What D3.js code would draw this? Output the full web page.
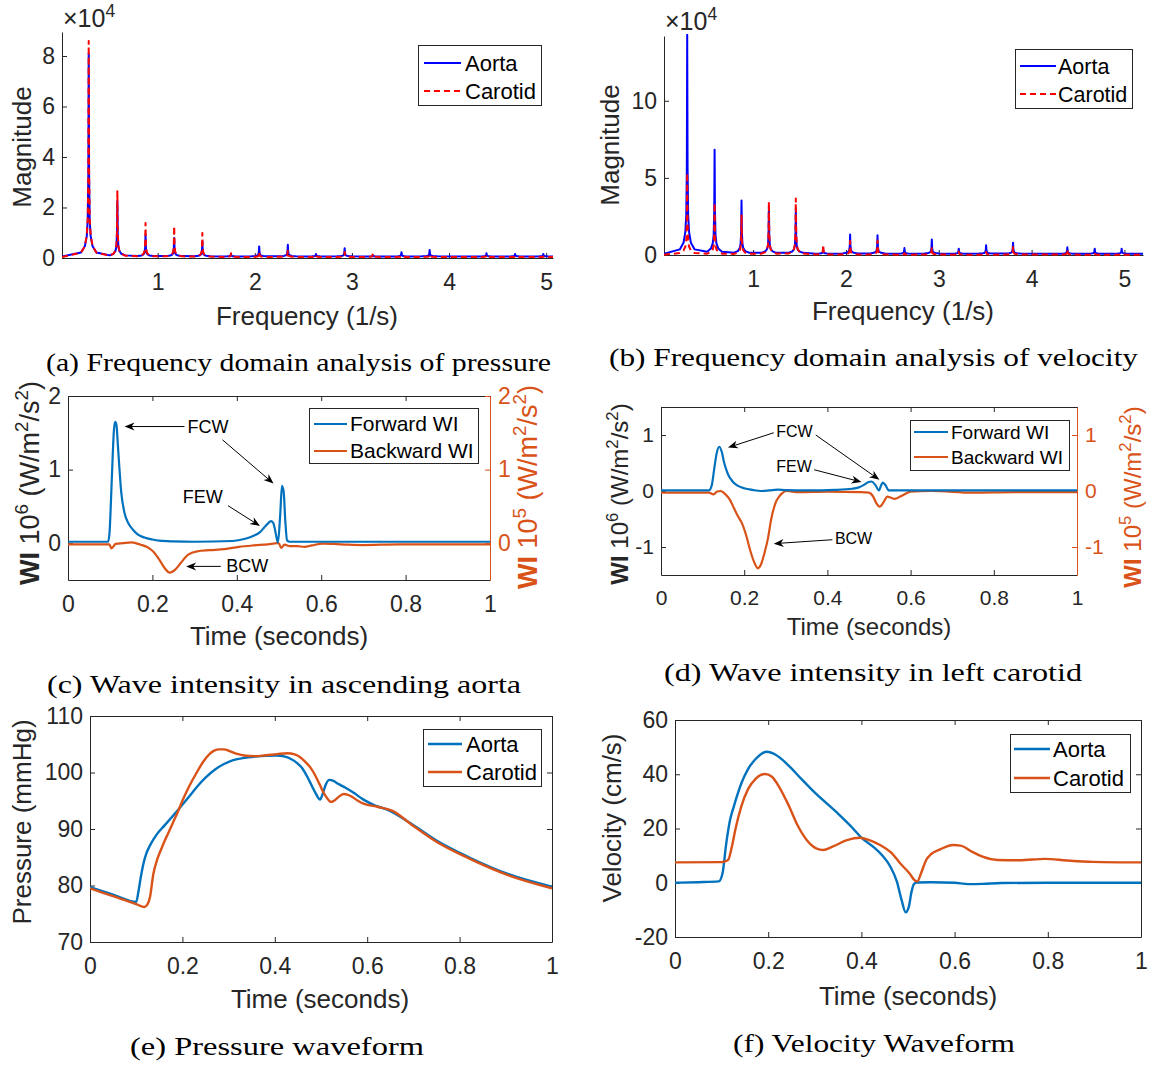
<!DOCTYPE html>
<html>
<head>
<meta charset="utf-8">
<script src="https://cdn.jsdelivr.net/npm/d3@7/dist/d3.min.js"></script>
<style>
  body { margin: 0; background: #fff; }
  svg text { white-space: pre; }
</style>
</head>
<body>
<svg id="fig" width="1155" height="1065"></svg>
<script>
// ---------- values ----------

// (a),(b) spectra: one peak per harmonic, magnitude in units of 1e4
const harmonicFreq    = [0.29, 0.585, 0.875, 1.17, 1.46, 1.755, 2.045, 2.34, 2.63, 2.925, 3.215, 3.51, 3.80, 4.095, 4.385, 4.68, 4.97];
const pressAortaMag   = [8.05, 2.2, 0.86, 0.73, 0.6, 0.1, 0.4, 0.46, 0.1, 0.33, 0.05, 0.17, 0.26, 0, 0.13, 0.1, 0.1];
const pressCarotidMag = [8.55, 2.6, 1.35, 1.22, 0.95, 0.15, 0.2, 0.25, 0.08, 0.2, 0.13, 0.05, 0.1, 0, 0.08, 0.02, 0.02];
const velAortaMag     = [14.2, 6.75, 3.45, 3.03, 2.9, 0.3, 1.25, 1.2, 0.37, 0.92, 0.33, 0.55, 0.72, 0, 0.42, 0.33, 0.33];
const velCarotidMag   = [5.3, 3.35, 2.6, 3.43, 3.65, 0.66, 0.88, 0.92, 0.1, 0.48, 0.2, 0.18, 0.5, 0, 0.33, 0.05, 0.05];
// profile of one peak: offset from the harmonic (1/s) and share of its height
const peakOffset = [-0.08, -0.04, -0.02, -0.01, -0.004, 0, 0.004, 0.01, 0.02, 0.04, 0.08];
const peakShare  = [0.02, 0.05, 0.1, 0.18, 0.4, 1, 0.4, 0.18, 0.1, 0.05, 0.02];

// (c) ascending aorta wave intensity (forward 1e6, backward 1e5)
const aoFwdT = [0, 0.095, 0.0985, 0.102, 0.106, 0.109, 0.112, 0.115, 0.118, 0.121, 0.126, 0.134, 0.143, 0.153, 0.165, 0.181, 0.2, 0.216, 0.25, 0.3, 0.39, 0.42, 0.44, 0.455, 0.466, 0.474, 0.481, 0.486, 0.49, 0.494, 0.4975, 0.503, 0.507, 0.511, 0.515, 0.519, 0.525, 0.6, 1];
const aoFwd  = [0.02, 0.02, 0.15, 0.6, 1.2, 1.55, 1.65, 1.6, 1.35, 1.09, 0.7, 0.41, 0.27, 0.19, 0.12, 0.077, 0.05, 0.035, 0.025, 0.02, 0.03, 0.06, 0.1, 0.15, 0.22, 0.27, 0.3, 0.28, 0.2, 0.08, 0.01, 0.4, 0.78, 0.7, 0.3, 0.04, 0.02, 0.02, 0.02];
const aoBwdT = [0, 0.098, 0.103, 0.108, 0.113, 0.13, 0.151, 0.172, 0.19, 0.203, 0.216, 0.228, 0.241, 0.254, 0.267, 0.284, 0.306, 0.336, 0.371, 0.405, 0.44, 0.474, 0.496, 0.5, 0.505, 0.513, 0.526, 0.543, 0.56, 0.578, 0.603, 0.63, 0.664, 0.698, 0.784, 1];
const aoBwd  = [-0.015, -0.015, -0.07, -0.04, -0.01, 0, 0.01, -0.02, -0.06, -0.12, -0.22, -0.33, -0.4, -0.36, -0.27, -0.16, -0.11, -0.095, -0.08, -0.05, -0.03, -0.015, 0, -0.005, -0.065, -0.02, -0.04, -0.04, -0.05, -0.03, -0.005, -0.01, -0.02, -0.025, -0.015, -0.015];

// (d) left carotid wave intensity
const caFwdT = [0, 0.115, 0.122, 0.128, 0.134, 0.14, 0.146, 0.152, 0.161, 0.172, 0.183, 0.2, 0.22, 0.24, 0.26, 0.28, 0.3, 0.35, 0.42, 0.46, 0.474, 0.488, 0.499, 0.506, 0.515, 0.524, 0.529, 0.533, 0.539, 0.548, 0.6, 1];
const caFwd  = [0.01, 0.01, 0.1, 0.4, 0.68, 0.79, 0.7, 0.5, 0.3, 0.17, 0.1, 0.05, 0.02, 0, 0.01, 0.025, 0.015, 0.01, 0.02, 0.04, 0.06, 0.11, 0.16, 0.17, 0.11, 0.01, 0.1, 0.15, 0.11, 0.01, 0.01, 0.01];
const caBwdT = [0, 0.115, 0.126, 0.135, 0.143, 0.155, 0.165, 0.175, 0.185, 0.196, 0.205, 0.214, 0.224, 0.233, 0.241, 0.249, 0.257, 0.265, 0.275, 0.284, 0.293, 0.302, 0.33, 0.4, 0.48, 0.5, 0.51, 0.518, 0.526, 0.535, 0.544, 0.553, 0.562, 0.575, 0.59, 0.6, 0.65, 0.75, 0.85, 1];
const caBwd  = [-0.03, -0.03, -0.06, -0.01, 0, -0.06, -0.15, -0.3, -0.45, -0.6, -0.8, -1.05, -1.27, -1.38, -1.3, -1.1, -0.85, -0.5, -0.22, -0.1, -0.03, 0, -0.02, -0.01, -0.02, -0.03, -0.1, -0.22, -0.28, -0.2, -0.1, -0.12, -0.14, -0.1, -0.04, -0.01, 0, -0.03, -0.02, -0.02];

// wave labels and arrows, in data units: [x, y] and [x0, y0, x1, y1]
const waveLabels = ["FCW", "FEW", "BCW"];
const aoLabelPos = [[0.283, 1.585], [0.272, 0.63], [0.375, -0.306]];
const aoArrows   = [[0.276, 1.585, 0.134, 1.585], [0.366, 1.405, 0.487, 0.81], [0.379, 0.51, 0.455, 0.234], [0.362, -0.315, 0.28, -0.315]];
const caLabelPos = [[0.277, 1.06], [0.277, 0.44], [0.418, -0.85]];
const caArrows   = [[0.271, 1.04, 0.161, 0.776], [0.372, 1.0, 0.525, 0.2], [0.368, 0.38, 0.482, 0.16], [0.412, -0.87, 0.271, -0.94]];

// (e) pressure (mmHg)
const aoPressT = [0, 0.05, 0.1, 0.105, 0.11, 0.116, 0.122, 0.13, 0.137, 0.145, 0.161, 0.176, 0.19, 0.204, 0.22, 0.235, 0.25, 0.27, 0.29, 0.31, 0.335, 0.357, 0.38, 0.404, 0.42, 0.435, 0.448, 0.459, 0.47, 0.478, 0.488, 0.498, 0.504, 0.51, 0.518, 0.527, 0.537, 0.553, 0.569, 0.592, 0.616, 0.647, 0.694, 0.749, 0.82, 0.906, 1];
const aoPress  = [79.7, 78.4, 77.1, 79, 81.5, 84, 85.7, 87.1, 88.1, 89.1, 90.6, 92.0, 93.3, 94.7, 96.3, 97.8, 99.1, 100.5, 101.5, 102.2, 102.6, 102.8, 102.95, 103, 102.85, 102.4, 101.7, 100.8, 99.3, 98, 96.4, 95.2, 96.3, 97.8, 98.7, 98.5, 98, 97.3, 96.5, 95.2, 94.2, 93.3, 91, 88, 85, 82, 79.8];
const caPressT = [0, 0.05, 0.1, 0.112, 0.118, 0.124, 0.13, 0.137, 0.145, 0.153, 0.161, 0.169, 0.18, 0.19, 0.2, 0.215, 0.231, 0.245, 0.259, 0.27, 0.278, 0.29, 0.302, 0.318, 0.333, 0.357, 0.38, 0.405, 0.427, 0.443, 0.455, 0.467, 0.476, 0.484, 0.493, 0.502, 0.512, 0.522, 0.53, 0.537, 0.549, 0.557, 0.565, 0.578, 0.592, 0.624, 0.655, 0.694, 0.749, 0.82, 0.906, 1];
const caPress  = [79.5, 78.1, 76.7, 76.3, 76.2, 76.6, 78, 82, 84.5, 86.2, 87.8, 89.2, 91.2, 93, 95, 97.6, 100, 101.9, 103.3, 103.9, 104.1, 104.1, 103.8, 103.3, 103, 102.9, 103.05, 103.25, 103.4, 103.2, 102.7, 101.8, 101, 100, 98.6, 97, 95.6, 94.8, 95.1, 95.6, 96.2, 96.1, 95.8, 95.1, 94.5, 93.9, 93.2, 90.9, 87.8, 84.8, 81.8, 79.5];

// (f) velocity (cm/s)
const aoVelT = [0, 0.05, 0.094, 0.102, 0.11, 0.118, 0.126, 0.134, 0.142, 0.157, 0.173, 0.185, 0.197, 0.216, 0.244, 0.271, 0.299, 0.346, 0.381, 0.4, 0.425, 0.444, 0.462, 0.476, 0.486, 0.495, 0.502, 0.507, 0.513, 0.519, 0.55, 0.6, 0.629, 0.66, 0.7, 0.8, 1];
const aoVel  = [0, 0.2, 0.5, 3.5, 14.5, 23, 28, 32.5, 36.5, 42, 45.6, 47.5, 48.3, 47.2, 43.2, 38.3, 33.4, 26.1, 20.2, 16.6, 13.3, 10.2, 6, 0.5, -6.2, -10.9, -8.7, -3.8, -0.4, 0.1, 0.2, 0, -0.5, -0.4, -0.1, 0, 0];
const caVelT = [0, 0.1, 0.106, 0.114, 0.122, 0.13, 0.142, 0.157, 0.173, 0.193, 0.208, 0.224, 0.244, 0.263, 0.283, 0.303, 0.318, 0.338, 0.369, 0.397, 0.417, 0.44, 0.464, 0.483, 0.503, 0.515, 0.52, 0.528, 0.539, 0.55, 0.57, 0.597, 0.613, 0.637, 0.66, 0.692, 0.739, 0.794, 0.841, 0.896, 1];
const caVel  = [7.5, 7.6, 7.8, 8.4, 13.3, 20, 28, 34.6, 38.3, 40.1, 39.1, 35.2, 28.5, 21.2, 15.7, 12.7, 12.1, 13.3, 15.7, 16.6, 15.7, 13.9, 11.1, 7.2, 3.5, 0.8, 0.5, 3.5, 8.4, 10.6, 12.4, 13.9, 13.7, 11.5, 9.6, 8.4, 8.3, 8.8, 8.2, 7.7, 7.5];

// tick labels
const freqTicks = [1, 2, 3, 4, 5];
const pressMagTicks = [0, 2, 4, 6, 8];
const velMagTicks = [0, 5, 10];
const timeTicks = [0, 0.2, 0.4, 0.6, 0.8, 1];
const wiAoTicks = [0, 1, 2];
const wiCaTicks = [-1, 0, 1];
const pressureTicks = [70, 80, 90, 100, 110];
const velocityTicks = [-20, 0, 20, 40, 60];

// ---------- drawing ----------
const svg = d3.select("#fig");
svg.append("rect").attr("width", 1155).attr("height", 1065).attr("fill", "#fff");
const AX = "#262626";
const BLUE = "#0072BD", ORANGE = "#D95319";
const FONT = '"Liberation Sans", Arial, Helvetica, sans-serif';
const SERIF = '"Liberation Serif", "Times New Roman", serif';
let clipCount = 0;

function frame(b, xDom, yDom, o) {
  const x = d3.scaleLinear().domain(xDom).range([b.l, b.r]);
  const y = d3.scaleLinear().domain(yDom).range([b.b, b.t]);
  const fmt = d => String(d);
  const g = svg.append("g");
  g.append("g").attr("class", "ax").attr("transform", "translate(0," + b.b + ")")
    .call(d3.axisBottom(x).tickValues(o.xTicks).tickFormat(fmt).tickSize(-5).tickSizeOuter(0).tickPadding(o.padX));
  g.append("g").attr("class", "ax").attr("transform", "translate(" + b.l + ",0)")
    .call(d3.axisLeft(y).tickValues(o.yTicks).tickFormat(fmt).tickSize(-5).tickSizeOuter(0).tickPadding(7));
  if (o.box) {
    g.append("g").attr("class", "ax").attr("transform", "translate(0," + b.t + ")")
      .call(d3.axisTop(x).tickValues(o.xTicks).tickFormat("").tickSize(-5).tickSizeOuter(0));
    if (!o.right) {
      g.append("g").attr("class", "ax").attr("transform", "translate(" + b.r + ",0)")
        .call(d3.axisRight(y).tickValues(o.yTicks).tickFormat("").tickSize(-5).tickSizeOuter(0));
    }
  }
  g.selectAll(".ax .domain").attr("stroke", AX);
  g.selectAll(".ax line").attr("stroke", AX);
  g.selectAll(".ax text").attr("fill", AX).attr("font-size", o.fs).attr("font-family", FONT);
  let yR = null;
  if (o.right) {
    yR = d3.scaleLinear().domain(o.right.dom).range([b.b, b.t]);
    const gr = g.append("g").attr("transform", "translate(" + b.r + ",0)")
      .call(d3.axisRight(yR).tickValues(o.right.ticks).tickFormat(fmt).tickSize(-5).tickSizeOuter(0).tickPadding(8));
    gr.selectAll(".domain").attr("stroke", ORANGE);
    gr.selectAll("line").attr("stroke", ORANGE);
    gr.selectAll("text").attr("fill", ORANGE).attr("font-size", o.fs).attr("font-family", FONT);
  }
  const id = "clip" + (clipCount++);
  svg.append("clipPath").attr("id", id).append("rect")
    .attr("x", b.l).attr("y", b.t - 2).attr("width", b.r - b.l).attr("height", b.b - b.t + 4);
  return { x: x, y: y, yR: yR, clip: "url(#" + id + ")" };
}

function rich(sel, parts, fs) {
  let cur = 0;
  parts.forEach(function (p) {
    const target = p[1] === "sup" ? -0.42 * fs : 0;
    const ts = sel.append("tspan").attr("dy", target - cur).text(p[0]);
    cur = target;
    if (p[1] === "sup") ts.attr("font-size", 0.7 * fs);
    if (p[1] === "bold") ts.attr("font-weight", "bold");
  });
}

function axisLabel(parts, cx, cy, fs, rotated, color) {
  const t = svg.append("text").attr("text-anchor", "middle").attr("font-size", fs)
    .attr("fill", color || AX).attr("font-family", FONT);
  if (rotated) t.attr("transform", "translate(" + (cx + 0.35 * fs) + "," + cy + ") rotate(-90)");
  else t.attr("transform", "translate(" + cx + "," + (cy + 0.35 * fs) + ")");
  rich(t, parts, fs);
}

function drawLine(f, xs, ys, color, width, dash, yScale, curve) {
  const yy = yScale || f.y;
  const pts = xs.map((v, i) => [v, ys[i]]);
  const line = d3.line().x(d => f.x(d[0])).y(d => yy(d[1])).curve(curve || d3.curveLinear);
  svg.append("path").datum(pts).attr("d", line).attr("fill", "none")
    .attr("stroke", color).attr("stroke-width", width)
    .attr("stroke-dasharray", dash || null).attr("stroke-linejoin", "round")
    .attr("clip-path", f.clip);
}

function spectrum(mags, base, fmin, fmax) {
  const xs = [fmin], ys = [base];
  harmonicFreq.forEach(function (fr, i) {
    if (mags[i] <= 0) return;
    peakOffset.forEach(function (off, j) {
      xs.push(fr + off);
      ys.push(base + mags[i] * peakShare[j]);
    });
  });
  xs.push(fmax); ys.push(base);
  return [xs, ys];
}

function legend(rect, rows, lineX, textX, names, colors, dashes, fs, width) {
  svg.append("rect").attr("x", rect[0] + 0.5).attr("y", rect[1] + 0.5).attr("width", rect[2]).attr("height", rect[3])
    .attr("fill", "#fff").attr("stroke", AX).attr("stroke-width", 1);
  names.forEach(function (n, i) {
    svg.append("line").attr("x1", lineX[0]).attr("x2", lineX[1]).attr("y1", rows[i]).attr("y2", rows[i])
      .attr("stroke", colors[i]).attr("stroke-width", width).attr("stroke-dasharray", dashes[i] || null);
    svg.append("text").attr("x", textX).attr("y", rows[i] + 0.35 * fs).attr("font-size", fs)
      .attr("fill", "#000").attr("font-family", FONT).text(n);
  });
}

function arrow(f, a) {
  const x0 = f.x(a[0]), y0 = f.y(a[1]), x1 = f.x(a[2]), y1 = f.y(a[3]);
  const dx = x1 - x0, dy = y1 - y0, len = Math.hypot(dx, dy);
  const ux = dx / len, uy = dy / len, nx = -uy, ny = ux;
  const L = 10, W = 4;
  svg.append("line").attr("x1", x0).attr("y1", y0).attr("x2", x1 - ux * L * 0.6).attr("y2", y1 - uy * L * 0.6)
    .attr("stroke", "#000").attr("stroke-width", 1);
  const head = [[x1, y1], [x1 - ux * L + nx * W, y1 - uy * L + ny * W], [x1 - ux * L * 0.7, y1 - uy * L * 0.7],
    [x1 - ux * L - nx * W, y1 - uy * L - ny * W]];
  svg.append("polygon").attr("points", head.map(p => p.join(",")).join(" ")).attr("fill", "#000");
}

function annotate(f, pos, arrows, fs) {
  arrows.forEach(a => arrow(f, a));
  waveLabels.forEach(function (lb, i) {
    svg.append("text").attr("x", f.x(pos[i][0])).attr("y", f.y(pos[i][1]) + 0.35 * fs)
      .attr("font-size", fs).attr("fill", "#000").attr("font-family", FONT).text(lb);
  });
}

function caption(txt, x0, x1, baseY) {
  svg.append("text").attr("x", x0).attr("y", baseY).attr("font-size", 25)
    .style("font-family", SERIF).attr("fill", "#000")
    .attr("textLength", x1 - x0).attr("lengthAdjust", "spacingAndGlyphs").text(txt);
}

function exponent(x, yBase) {
  const t = svg.append("text").attr("x", x).attr("y", yBase).attr("font-size", 25)
    .attr("fill", AX).attr("font-family", FONT);
  rich(t, [["\u00d710", ""], ["4", "sup"]], 25);
}

// (a) pressure spectrum
const fa = frame({ l: 62, r: 553, t: 32, b: 258 }, [0.015, 5.07], [0, 8.95],
  { xTicks: freqTicks, yTicks: pressMagTicks, box: false, fs: 23, padX: 16 });
let s = spectrum(pressAortaMag, 0.06, 0.015, 5.07);
drawLine(fa, s[0], s[1], "#0000FF", 2);
s = spectrum(pressCarotidMag, 0.04, 0.015, 5.07);
drawLine(fa, s[0], s[1], "#FF0000", 2, "6,4");
exponent(63, 27);
axisLabel([["Magnitude", ""]], 22, 147, 26, true);
axisLabel([["Frequency (1/s)", ""]], 307, 316, 26, false);
legend([418, 45, 123, 60], [63, 91], [424, 461], 465, ["Aorta", "Carotid"], ["#0000FF", "#FF0000"], [null, "6,4"], 22, 2);

// (b) velocity spectrum
const fb = frame({ l: 664, r: 1143, t: 36, b: 255 }, [0.04, 5.2], [0, 14.2],
  { xTicks: freqTicks, yTicks: velMagTicks, box: false, fs: 23, padX: 16 });
s = spectrum(velAortaMag, 0.08, 0.04, 5.2);
drawLine(fb, s[0], s[1], "#0000FF", 2);
s = spectrum(velCarotidMag, 0.02, 0.04, 5.2);
drawLine(fb, s[0], s[1], "#FF0000", 2, "6,4");
exponent(665, 30);
axisLabel([["Magnitude", ""]], 610, 145, 26, true);
axisLabel([["Frequency (1/s)", ""]], 903, 311, 26, false);
legend([1015, 49, 117, 59], [66, 94], [1020, 1056], 1058, ["Aorta", "Carotid"], ["#0000FF", "#FF0000"], [null, "6,4"], 21.5, 2);

// (c) wave intensity, ascending aorta
const fc = frame({ l: 68, r: 490, t: 396, b: 580 }, [0, 1], [-0.5, 2],
  { xTicks: timeTicks, yTicks: wiAoTicks, box: true, fs: 23, padX: 16, right: { dom: [-0.5, 2], ticks: wiAoTicks } });
drawLine(fc, aoBwdT, aoBwd, ORANGE, 2.2, null, fc.yR, d3.curveMonotoneX);
drawLine(fc, aoFwdT, aoFwd, BLUE, 2.2, null, null, d3.curveMonotoneX);
annotate(fc, aoLabelPos, aoArrows, 18);
const wiParts = e => [["WI", "bold"], [" 10", ""], [e, "sup"], [" (W/m", ""], ["2", "sup"], ["/s", ""], ["2", "sup"], [")", ""]];
axisLabel(wiParts("6"), 30, 483, 27, true);
axisLabel(wiParts("5"), 528, 487, 27, true, ORANGE);
axisLabel([["Time (seconds)", ""]], 279, 636, 26, false);
legend([309, 408, 169, 55], [424, 451], [314, 347], 350, ["Forward WI", "Backward WI"], [BLUE, ORANGE], [null, null], 21, 2.2);

// (d) wave intensity, left carotid
const fd = frame({ l: 661, r: 1077, t: 407, b: 575 }, [0, 1], [-1.5, 1.5],
  { xTicks: timeTicks, yTicks: wiCaTicks, box: true, fs: 21, padX: 15, right: { dom: [-1.5, 1.5], ticks: wiCaTicks } });
drawLine(fd, caBwdT, caBwd, ORANGE, 2.2, null, fd.yR, d3.curveMonotoneX);
drawLine(fd, caFwdT, caFwd, BLUE, 2.2, null, null, d3.curveMonotoneX);
annotate(fd, caLabelPos, caArrows, 16);
axisLabel(wiParts("6"), 620, 494, 24, true);
axisLabel(wiParts("5"), 1133, 497, 24, true, ORANGE);
axisLabel([["Time (seconds)", ""]], 869, 627, 24, false);
legend([910, 420, 159, 50], [432, 457], [914, 948], 951, ["Forward WI", "Backward WI"], [BLUE, ORANGE], [null, null], 19, 2.2);

// (e) pressure waveform
const fe = frame({ l: 90, r: 552, t: 716, b: 942 }, [0, 1], [70, 110],
  { xTicks: timeTicks, yTicks: pressureTicks, box: true, fs: 23, padX: 16 });
drawLine(fe, aoPressT, aoPress, BLUE, 2.4, null, null, d3.curveMonotoneX);
drawLine(fe, caPressT, caPress, ORANGE, 2.4, null, null, d3.curveMonotoneX);
axisLabel([["Pressure (mmHg)", ""]], 22, 822, 26, true);
axisLabel([["Time (seconds)", ""]], 320, 999, 26, false);
legend([423, 729, 118, 57], [744, 772], [428, 462], 466, ["Aorta", "Carotid"], [BLUE, ORANGE], [null, null], 22, 2.4);

// (f) velocity waveform
const ff = frame({ l: 675, r: 1141, t: 720, b: 937 }, [0, 1], [-20, 60],
  { xTicks: timeTicks, yTicks: velocityTicks, box: true, fs: 23, padX: 16 });
drawLine(ff, aoVelT, aoVel, BLUE, 2.4, null, null, d3.curveMonotoneX);
drawLine(ff, caVelT, caVel, ORANGE, 2.4, null, null, d3.curveMonotoneX);
axisLabel([["Velocity (cm/s)", ""]], 612, 818, 26, true);
axisLabel([["Time (seconds)", ""]], 908, 996, 26, false);
legend([1010, 734, 120, 58], [749, 778], [1014, 1050], 1053, ["Aorta", "Carotid"], [BLUE, ORANGE], [null, null], 22, 2.4);

// captions
caption("(a) Frequency domain analysis of pressure", 46, 551, 371);
caption("(b) Frequency domain analysis of velocity", 609, 1138, 366);
caption("(c) Wave intensity in ascending aorta", 47, 521, 693);
caption("(d) Wave intensity in left carotid", 664, 1082, 681);
caption("(e) Pressure waveform", 130, 424, 1055);
caption("(f) Velocity Waveform", 733, 1015, 1052);
</script>
</body>
</html>
